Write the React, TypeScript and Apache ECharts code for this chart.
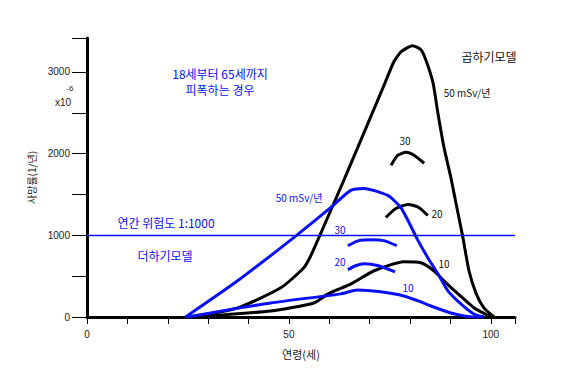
import React, { useEffect, useRef } from "react";
import * as echarts from "echarts";

// 곱하기모델 (multiplicative model) curves: [age, rate x10^-6]
const mult50: number[][] = [
  [26.4, 0], [37.3, 111], [48.0, 357], [53.7, 603], [55.3, 738], [57.1, 935],
  [63.6, 1673], [73.5, 2829], [76.0, 3124], [77.8, 3247], [80.6, 3321], [82.7, 3272],
  [83.9, 3149], [85.7, 2866], [86.9, 2497], [88.4, 2079], [90.1, 1710], [91.4, 1390],
  [93.1, 972], [94.6, 566], [96.4, 283], [98.3, 111], [100.8, 0],
];
const mult30: number[][] = [[75.3, 1857], [77.0, 1980], [79.0, 2017], [81.0, 1980], [83.5, 1882]];
const mult20: number[][] = [[74.0, 1218], [76.5, 1328], [79.5, 1378], [82.2, 1341], [84.4, 1242]];
const mult10: number[][] = [
  [26.4, 0], [45.5, 74], [56.2, 172], [59.7, 283], [65.4, 406], [71.1, 566], [78.5, 676],
  [82.7, 664], [85.9, 566], [88.4, 443], [91.9, 283], [95.9, 111], [100.1, 0],
];

// 더하기모델 (additive model) curves
const add50: number[][] = [
  [24.4, 0], [37.3, 443], [51.2, 972], [60.4, 1341], [65.3, 1550], [68.6, 1574],
  [74.5, 1488], [77.7, 1341], [79.5, 1181], [82.0, 935], [84.4, 726], [86.9, 529],
  [89.4, 320], [92.6, 160], [95.8, 37], [98.3, 0],
];
const add30: number[][] = [[64.6, 873], [67.3, 935], [70.3, 947], [73.5, 935], [76.7, 873]];
const add20: number[][] = [[64.6, 578], [66.5, 627], [68.6, 652], [72.2, 627], [76.3, 553]];
const add10: number[][] = [
  [24.9, 0], [45.5, 172], [62.8, 283], [67.0, 332], [72.7, 308], [78.5, 258],
  [82.0, 197], [85.2, 135], [90.1, 49], [95.8, 0], [98.3, 0],
];

const riskLevel = 1000;
const xTickLabels = [0, 50, 100];
const yTickLabels = [0, 1000, 2000, 3000];

const BLUE = "#0a10f5";
const FONT = "'Noto Sans CJK KR', 'Noto Sans', sans-serif";
const TICK_FONT = "'Liberation Sans Narrow', 'Liberation Sans', sans-serif";

export default function App() {
  const ref = useRef<HTMLDivElement>(null);
  useEffect(() => {
    if (!ref.current) return;
    const chart = echarts.init(ref.current, undefined, { renderer: "svg" });
    const line = (data: number[][], color: string, extra: any = {}) => ({
      type: "line",
      data,
      showSymbol: false,
      smooth: 0.2,
      lineStyle: { color, width: 3 },
      silent: true,
      ...extra,
    });
    const txt = (x: number, y: number, text: string, color: string, size = 11, family = FONT) => ({
      type: "text",
      x,
      y,
      style: { text, fill: color, font: `normal ${size}px ${family}`, textAlign: "center", textVerticalAlign: "middle" },
    });
    chart.setOption({
      animation: false,
      backgroundColor: "#fff",
      grid: { left: 87, right: 56, top: 38, bottom: 63 },
      xAxis: {
        type: "value",
        min: 0,
        max: 106,
        interval: 10,
        name: "연령(세)",
        nameLocation: "middle",
        nameGap: 31,
        nameTextStyle: { color: "#222", fontSize: 11, fontFamily: FONT },
        axisLine: { show: true, lineStyle: { color: "#000", width: 3 } },
        axisTick: { show: true, length: 7, lineStyle: { color: "#000", width: 1 } },
        axisLabel: {
          color: "#222",
          fontSize: 10,
          fontFamily: TICK_FONT,
          margin: 12,
          formatter: (v: number) => (xTickLabels.includes(v) ? String(v) : ""),
        },
        splitLine: { show: false },
      },
      yAxis: {
        type: "value",
        min: 0,
        max: 3415,
        interval: 500,
        name: "사망률(1/년)",
        nameLocation: "middle",
        nameGap: 48,
        nameRotate: 90,
        nameTextStyle: { color: "#222", fontSize: 10, fontFamily: FONT },
        axisLine: { show: true, lineStyle: { color: "#000", width: 3 } },
        axisTick: { show: true, length: 15, lineStyle: { color: "#000", width: 1 } },
        axisLabel: {
          color: "#222",
          fontSize: 10,
          fontFamily: TICK_FONT,
          margin: 17,
          formatter: (v: number) => (yTickLabels.includes(v) ? String(v) : ""),
        },
        splitLine: { show: false },
      },
      series: [
        line(mult50, "#000", {
          markLine: {
            silent: true,
            symbol: "none",
            label: { show: false },
            lineStyle: { color: BLUE, width: 1.3, type: "solid" },
            data: [{ yAxis: riskLevel }],
          },
        }),
        line(mult30, "#000"),
        line(mult20, "#000"),
        line(mult10, "#000"),
        line(add50, BLUE),
        line(add30, BLUE),
        line(add20, BLUE),
        line(add10, BLUE),
      ],
      graphic: [
        txt(63, 102, "x10", "#222", 10, TICK_FONT),
        txt(70, 88, "-6", "#222", 8, TICK_FONT),
        txt(220, 73, "18세부터 65세까지", BLUE, 12),
        txt(220, 89, "피폭하는 경우", BLUE, 12),
        txt(489, 56, "곱하기모델", "#111", 12),
        txt(467, 92, "50 mSv/년", "#111", 10),
        txt(405, 140, "30", "#111", 10),
        txt(437, 213, "20", "#111", 10),
        txt(444, 263, "10", "#111", 10),
        txt(299, 197, "50 mSv/년", BLUE, 10),
        txt(340, 229, "30", BLUE, 10),
        txt(340, 261, "20", BLUE, 10),
        txt(408, 287, "10", BLUE, 10),
        txt(166, 222, "연간 위험도 1:1000", BLUE, 12),
        txt(165, 255, "더하기모델", BLUE, 12),
      ],
    });
    return () => chart.dispose();
  }, []);
  return <div ref={ref} style={{ position: "absolute", left: 0, top: 0, width: 571, height: 380 }} />;
}
